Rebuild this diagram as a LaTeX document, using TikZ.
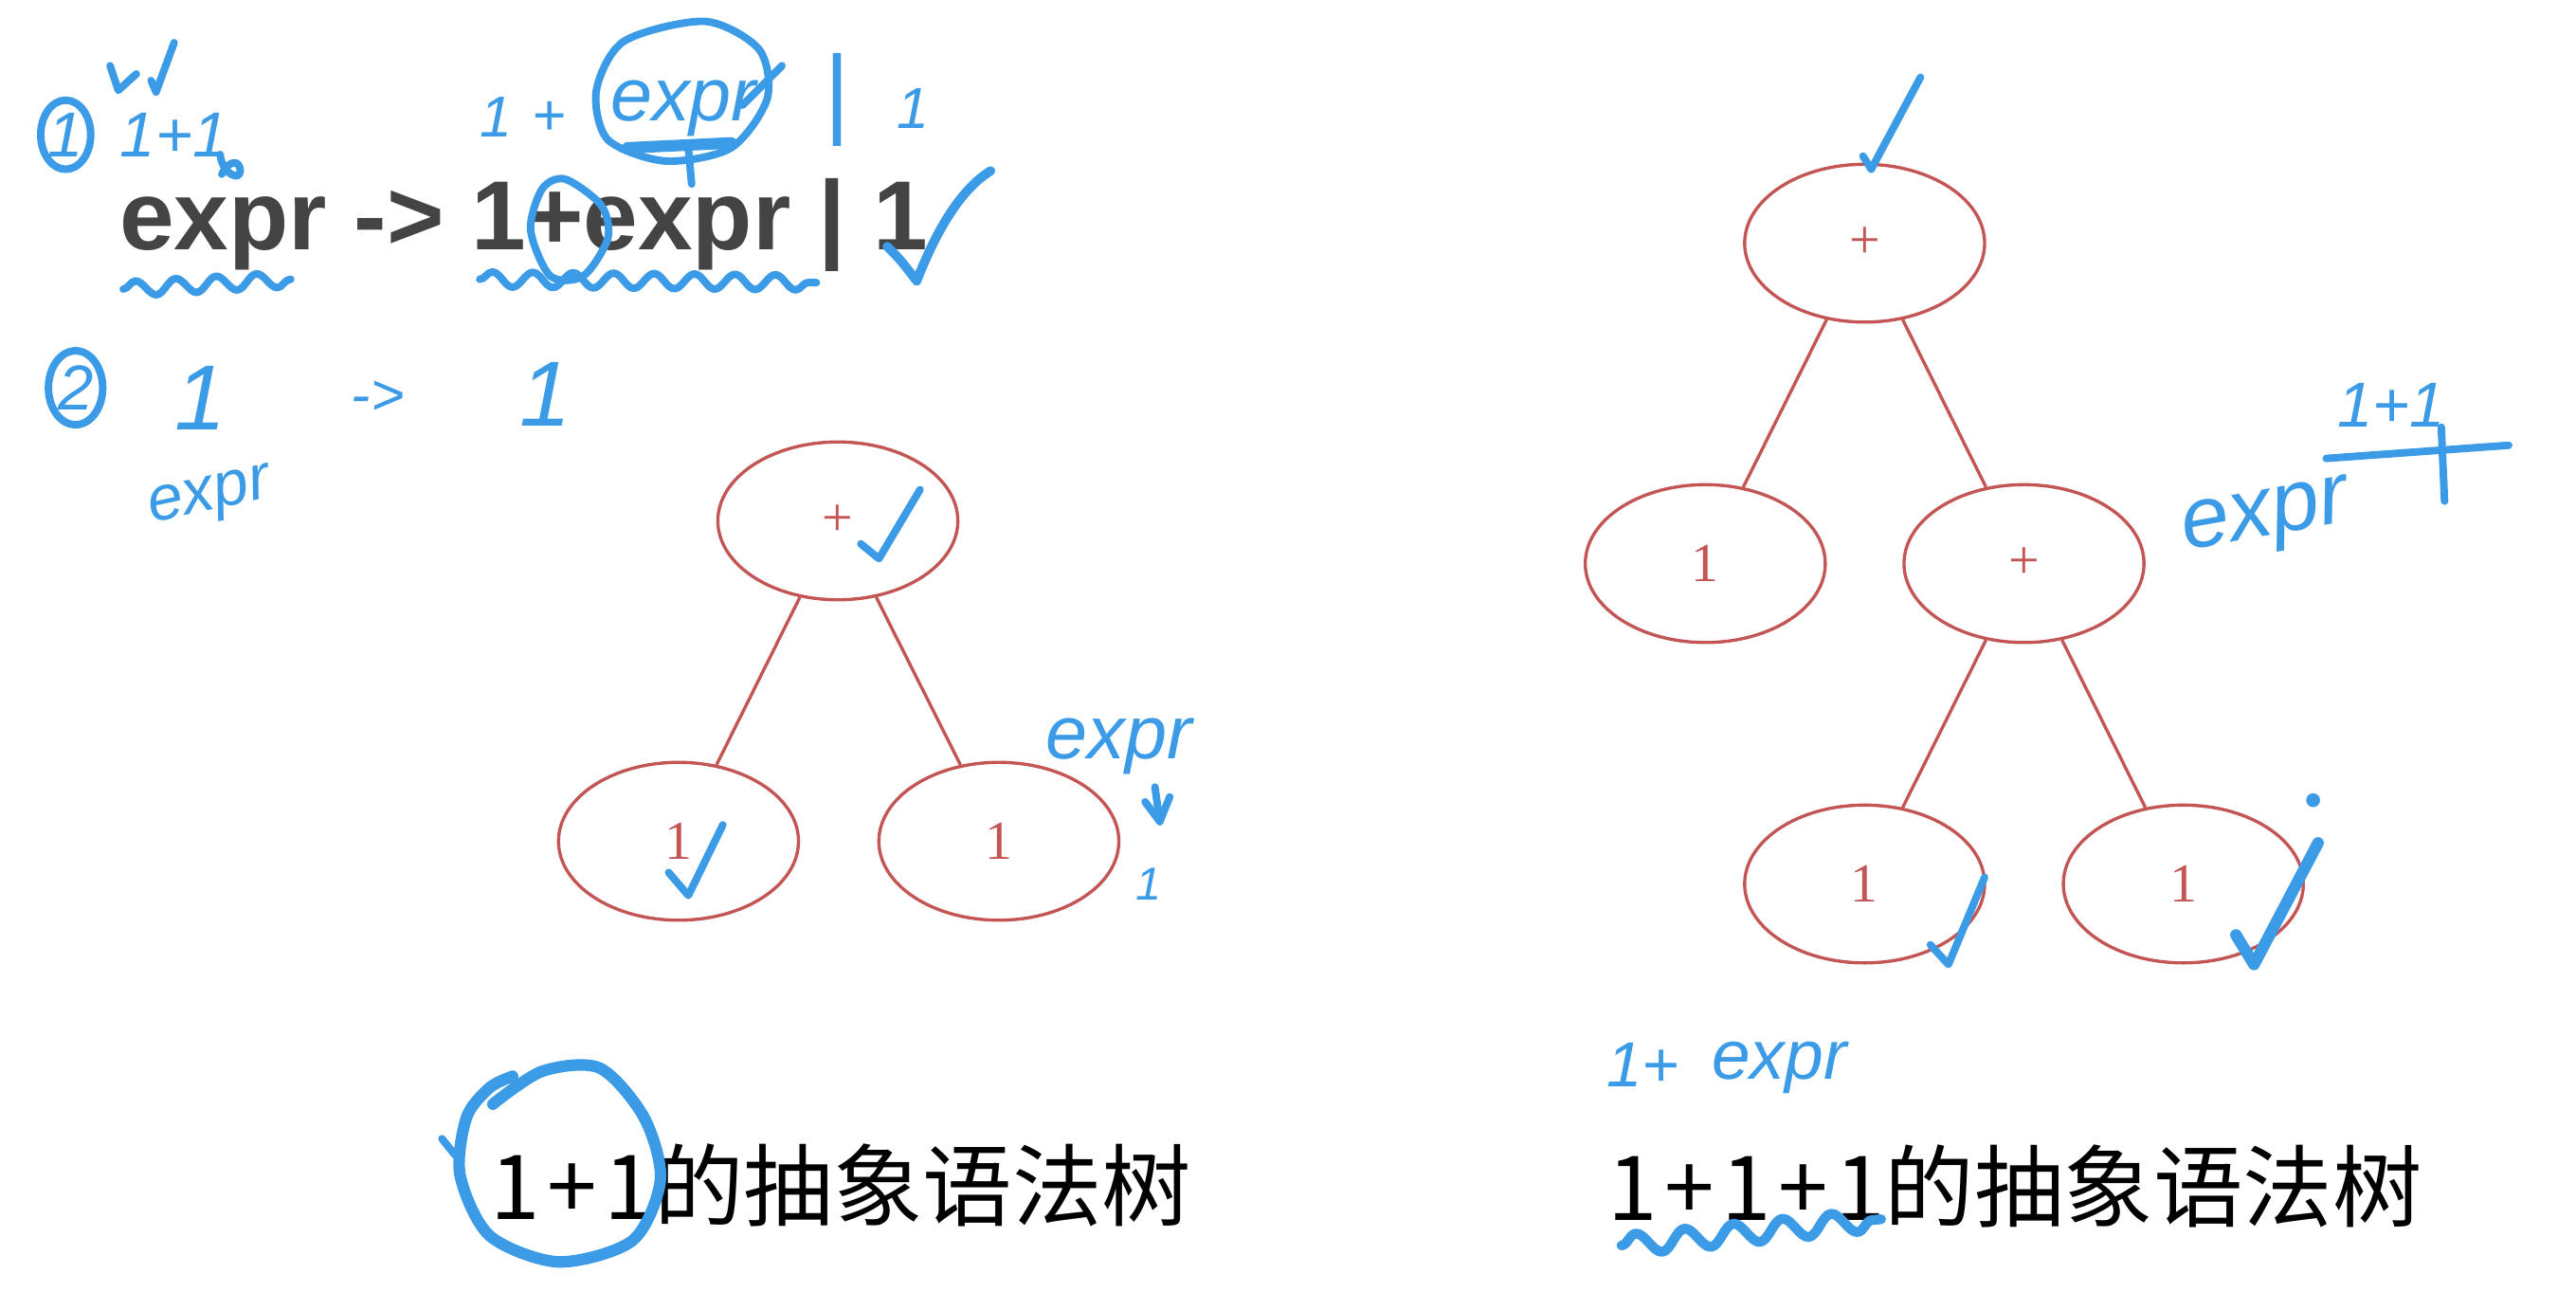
\documentclass[tikz,border=0pt]{standalone}
\usepackage{fontspec}
\setmainfont{Liberation Sans}
\newfontfamily\cjkfont{Noto Sans CJK SC}
\newfontfamily\capdigits{Noto Sans CJK SC}[LetterSpace=8]
\newfontfamily\treefont{Liberation Serif}
\usepackage{xcolor}
\definecolor{treered}{RGB}{195,85,85}
\definecolor{penblue}{RGB}{60,155,230}
\definecolor{gramgray}{RGB}{68,68,68}
\usepackage{tikz}
\usetikzlibrary{calc,positioning,shapes.geometric,decorations.pathmorphing}

\begin{document}
\begin{tikzpicture}[x=0.01cm,y=-0.01cm,
    treenode/.style={draw=treered,line width=0.55pt,ellipse,minimum width=1.46cm,minimum height=0.96cm,inner sep=0pt,text=treered,font=\treefont\fontsize{9.5}{10}\selectfont},
    treeedge/.style={treered,line width=0.55pt},
    pen/.style={penblue,line width=1.3pt,line cap=round,line join=round},
    pentext/.style={text=penblue,inner sep=0pt,font=\itshape\fontsize{#1}{#1}\selectfont},
    wavyline/.style={pen,decorate,decoration={snake,amplitude=1.3pt,segment length=7pt}}]
    % Page
    \fill[white] (0,0) rectangle (1568,797);
    \useasboundingbox (0,0) rectangle (1568,797);
    % Grammar
    \node[anchor=base west,inner sep=0pt,text=gramgray,font=\bfseries\fontsize{17}{20}\selectfont] (gram) at (72,152) {expr -> 1+expr | 1};
    % Left tree (1+1)
    \node[treenode] (lroot) at (510,317) {+};
    \node[treenode] (lleft) at (413,512) {1};
    \node[treenode] (lright) at (608,512) {1};
    \draw[treeedge] (lroot) -- (lleft);
    \draw[treeedge] (lroot) -- (lright);
    % Right tree (1+1+1)
    \node[treenode] (rroot) at (1135,148) {+};
    \node[treenode] (rleft) at (1038,343) {1};
    \node[treenode] (rplus) at (1232,343) {+};
    \node[treenode] (rbl) at (1135,538) {1};
    \node[treenode] (rbr) at (1329,538) {1};
    \draw[treeedge] (rroot) -- (rleft);
    \draw[treeedge] (rroot) -- (rplus);
    \draw[treeedge] (rplus) -- (rbl);
    \draw[treeedge] (rplus) -- (rbr);
    % Captions
    \node[anchor=base west,inner sep=0pt,font=\cjkfont\fontsize{15.5}{18}\selectfont] (capl) at (298,742) {{\capdigits 1+1}的抽象语法树};
    \node[anchor=base west,inner sep=0pt,font=\cjkfont\fontsize{15.5}{18}\selectfont] (capr) at (978,743) {{\capdigits 1+1+1}的抽象语法树};
    % Notes: step 1
    \node[pentext=11,draw=penblue,line width=1.3pt,ellipse,minimum width=0.24cm,minimum height=0.42cm] (one) at (40,82) {1};
    \draw[pen] (67,40) -- (72,55) -- (83,45);
    \draw[pen] (92,49) -- (95,56) -- (106,26);
    \node[pentext=11] (firstsum) at (106,82) {1+1};
    \draw[pen] (134,94) .. controls (135,106) and (148,112) .. (146,102) .. controls (144,96) and (138,100) .. (135,106);
    % Notes: expansion above the grammar
    \node[pentext=10] (hone) at (302,71) {1};
    \node[pentext=10] (hplus) at (334,72) {+};
    \node[pentext=13] (hexpr) at (416,66) {expr};
    \node[pentext=17] (hbar) at (509,61) {|};
    \node[pentext=10] (hlast) at (556,66) {1};
    \draw[pen] plot[smooth cycle] coordinates {(380,25) (429,13) (462,30) (467,60) (445,90) (405,98) (370,85) (363,55)};
    \draw[pen,line width=2pt] (382,90) -- (445,87);
    \draw[pen] (452,64) -- (476,40);
    \draw[pen] (419,90) -- (421,112);
    \draw[pen] plot[smooth cycle] coordinates {(344,109) (366,125) (370,145) (355,168) (335,168) (323,140) (330,115)};
    \draw[wavyline] (75,176) -- (177,170);
    \draw[wavyline] (292,170) -- (497,172);
    \draw[pen,line width=1.6pt] (540,150) .. controls (548,158) .. (558,171) .. controls (570,140) and (585,115) .. (603,104);
    % Notes: step 2
    \node[pentext=11,draw=penblue,line width=1.3pt,ellipse,minimum width=0.33cm,minimum height=0.45cm] (two) at (46,236) {2};
    \node[pentext=16] (sone) at (122,242) {1};
    \node[pentext=10] (sarrow) at (230,242) {->};
    \node[pentext=16] (stwo) at (332,240) {1};
    \node[pentext=11,rotate=12] (sexpr) at (128,304) {expr};
    % Notes: left tree
    \draw[pen] (524,331) -- (535,340) -- (560,298);
    \draw[pen] (407,531) -- (419,545) -- (440,502);
    \node[pentext=13,anchor=base west] (lexpr) at (636,462) {expr};
    \draw[pen] (703,479) -- (706,500);
    \draw[pen] (697,488) -- (706,500) -- (712,485);
    \node[pentext=8] (lone) at (699,538) {1};
    % Notes: right tree
    \draw[pen] (1134,95) -- (1139,103) -- (1169,47);
    \node[pentext=11,anchor=base west] (rsum) at (1422,260) {1+1};
    \draw[pen] (1486,260) -- (1488,305);
    \draw[pen] (1416,279) -- (1527,271);
    \node[pentext=15,anchor=base west,rotate=10] (rexpr) at (1330,335) {expr};
    \draw[pen] (1175,575) -- (1186,587) -- (1208,534);
    \draw[pen,line width=2pt] (1361,569) -- (1372,587) -- (1411,513);
    \fill[penblue] (1408,487) circle (1.2pt);
    % Notes: captions
    \node[pentext=11] (cplus) at (1000,648) {1+};
    \node[pentext=12] (cexpr) at (1083,650) {expr};
    \draw[pen,line width=1.7pt,decorate,decoration={snake,amplitude=1.8pt,segment length=8.5pt}] (987,758) -- (1145,742);
    \draw[pen,line width=2pt] plot[smooth] coordinates {(300,672) (330,652) (365,650) (392,680) (402,718) (385,755) (340,768) (298,752) (280,715) (284,680) (298,662) (312,655)};
    \draw[pen] (269,693) -- (277,703);
\end{tikzpicture}
\end{document}
